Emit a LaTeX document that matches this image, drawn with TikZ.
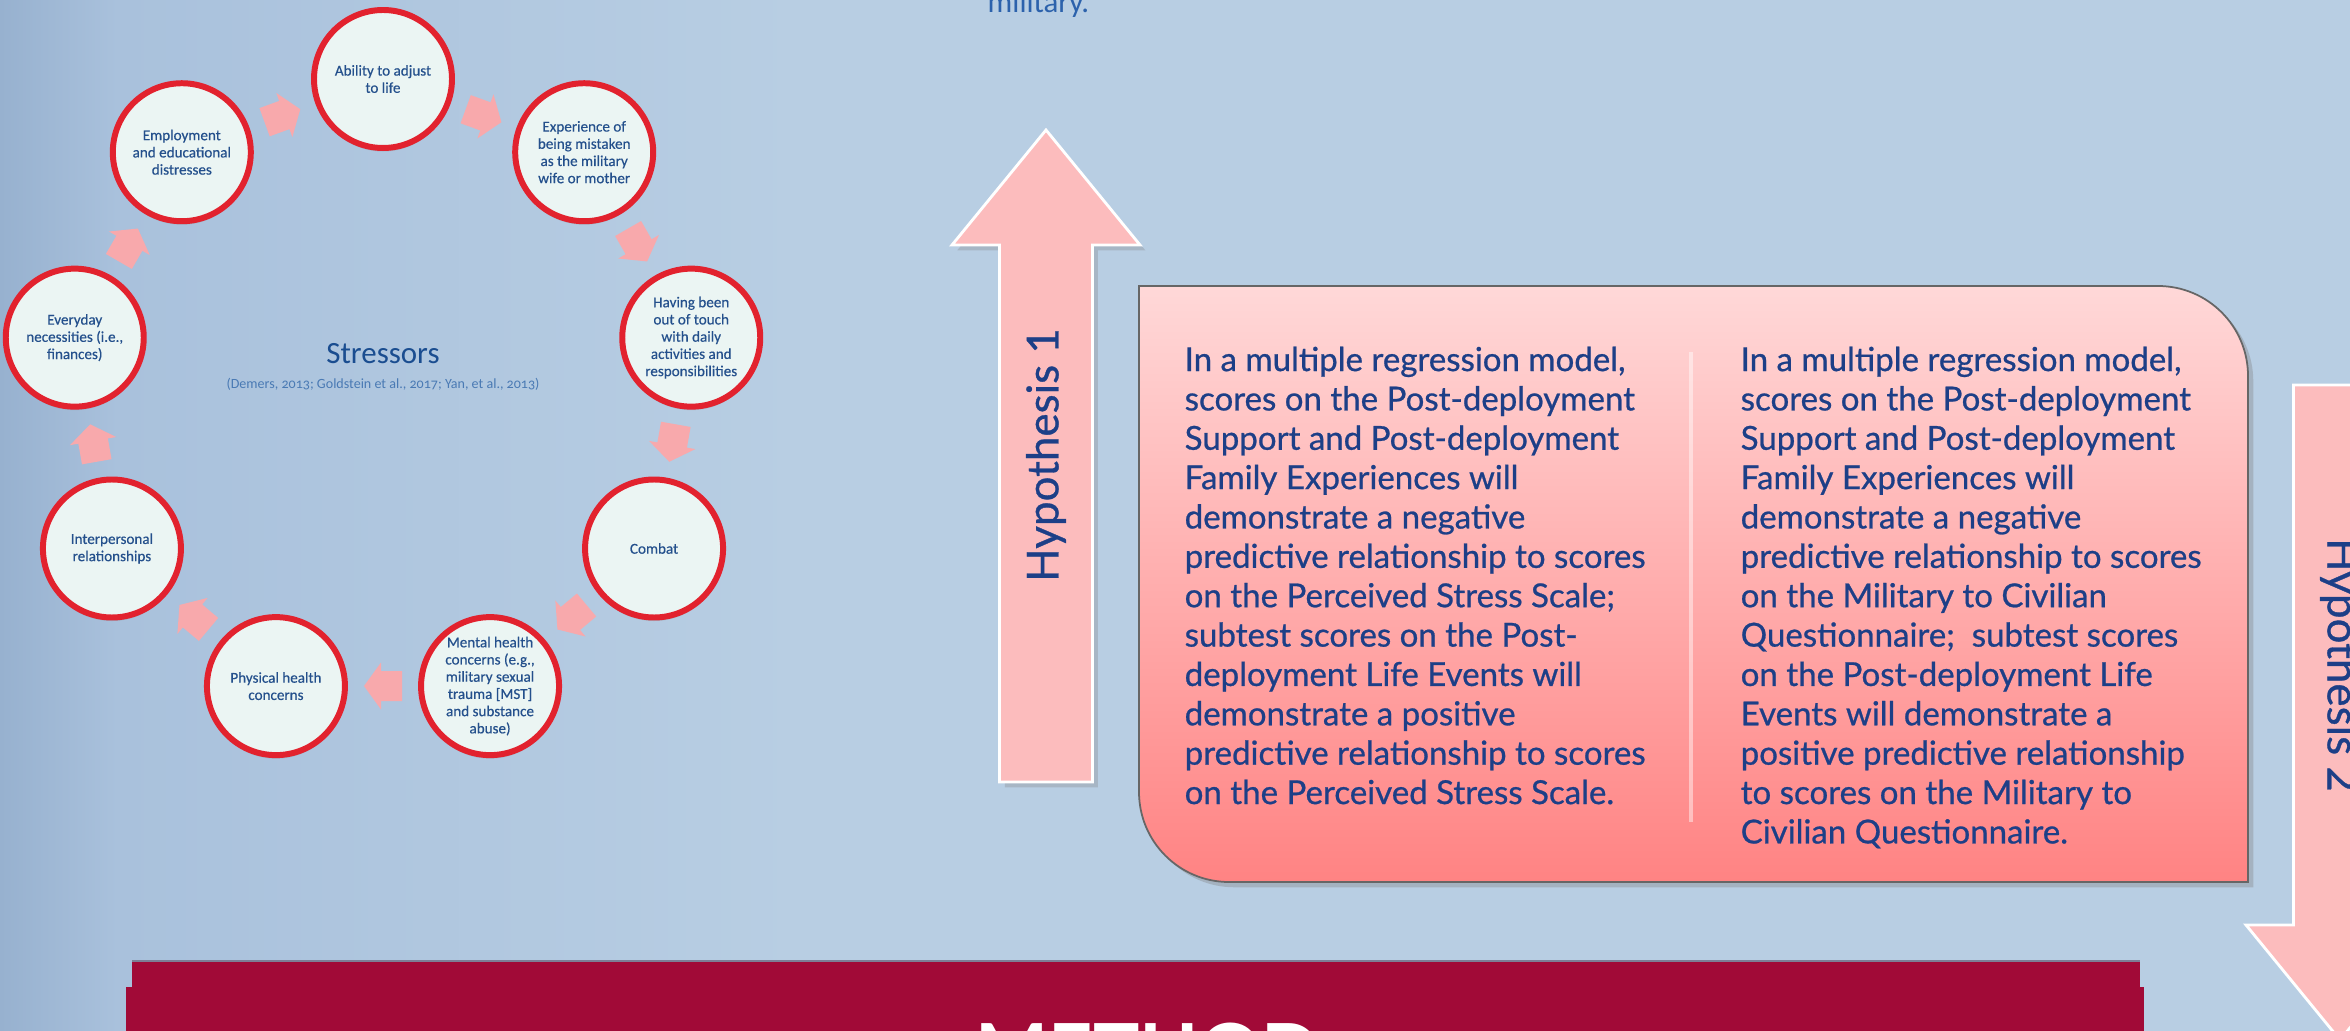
\documentclass[tikz,border=0pt]{standalone}
\usepackage{fontspec}
\setmainfont{Lato}
\newfontfamily\statementfont[FakeBold=0.7]{Lato}
\newfontfamily\cardfont[FakeBold=0.4]{Carlito}
\newfontfamily\titlefont{Carlito}
\newfontfamily\citefont[Numbers=OldStyle]{Carlito}
\usetikzlibrary{shadows}

\definecolor{bgleft}{HTML}{97B1CF}
\definecolor{bgmid}{HTML}{A9C1DC}
\definecolor{bgright}{HTML}{B8CEE3}
\definecolor{ringred}{HTML}{E2222E}
\definecolor{cardfill}{HTML}{EBF5F3}
\definecolor{cardtext}{HTML}{24508C}
\definecolor{cyclepink}{HTML}{F8A9AC}
\definecolor{hyppink}{HTML}{FCBCBD}
\definecolor{boxtop}{HTML}{FFD8D8}
\definecolor{boxbottom}{HTML}{FF8383}
\definecolor{hyptext}{HTML}{1D3F87}
\definecolor{titleblue}{HTML}{1A4D90}
\definecolor{citeblue}{HTML}{4A7AB4}
\definecolor{topblue}{HTML}{2C62AC}
\definecolor{methodred}{HTML}{A10A37}
\definecolor{methodedge}{HTML}{7D7F96}
\pgfdeclarehorizontalshading{backdrop}{100bp}{color(0bp)=(bgleft); color(25bp)=(bgleft); color(27.5bp)=(bgmid); color(42bp)=(bgright); color(100bp)=(bgright)}

\begin{document}
\begin{tikzpicture}[
  stressor/.style={circle, draw=ringred, line width=1.7pt, fill=cardfill,
    minimum size=1.38cm, inner sep=0pt, align=center, text=cardtext,
    font=\cardfont\fontsize{4.3}{4.9}\selectfont,
    drop shadow={opacity=.25, shadow xshift=0pt, shadow yshift=-1pt}},
  hyparrow/.style={fill=hyppink, draw=white, line width=.8pt,
    drop shadow={opacity=.3, shadow xshift=1.5pt, shadow yshift=-1.5pt}},
  hyplabel/.style={text=hyptext, font=\statementfont\fontsize{12.5}{15}\selectfont},
  column/.style={anchor=north west, inner sep=0pt, align=left, text=hyptext,
    font=\statementfont\fontsize{9.4}{11.2}\selectfont},
  cyclearrow/.pic={\fill[cyclepink] (-0.19,-0.15) -- (0.02,-0.15) -- (0.02,-0.235)
    -- (0.19,0) -- (0.02,0.235) -- (0.02,0.15) -- (-0.19,0.15) -- cycle;}
]
  \useasboundingbox (0,0) rectangle (23.5,10.3);
  \shade[shading=backdrop] (0,0) rectangle (23.5,10.3);

  \node[anchor=base west, inner sep=0pt, text=topblue,
    font=\titlefont\fontsize{8.8}{10}\selectfont] (topline) at (9.87,10.17) {military.};

  % method banner
  \fill[methodred] (1.32,0.42) rectangle (21.40,0.69);
  \fill[methodred] (1.26,-0.20) rectangle (21.44,0.43);
  \draw[methodedge, line width=.8pt] (1.32,0.69) -- (21.40,0.69);
  \node[anchor=base, text=white, font=\bfseries\fontsize{22}{24}\selectfont] (method) at (11.48,-0.49) {METHOD};

  % stressor ring
  \begin{scope}[shift={(3.83,6.38)}]
    \node[stressor] (adjust) at (90:3.13) {Ability to adjust\\to life};
    \node[stressor] (mistaken) at (50:3.13) {Experience of\\being mistaken\\as the military\\wife or mother};
    \node[stressor] (touch) at (10:3.13) {Having been\\out of touch\\with daily\\activities and\\responsibilities};
    \node[stressor] (combat) at (-30:3.13) {Combat};
    \node[stressor] (mental) at (-70:3.13) {Mental health\\concerns (e.g.,\\military sexual\\trauma [MST]\\and substance\\abuse)};
    \node[stressor] (physical) at (-110:3.13) {Physical health\\concerns};
    \node[stressor] (interpersonal) at (-150:3.13) {Interpersonal\\relationships};
    \node[stressor] (everyday) at (170:3.13) {Everyday\\necessities (i.e.,\\finances)};
    \node[stressor] (employment) at (130:3.13) {Employment\\and educational\\distresses};

    \pic[rotate=-20] at (70:2.94) {cyclearrow};
    \pic[rotate=-60] at (30:2.94) {cyclearrow};
    \pic[rotate=-100] at (-10:2.94) {cyclearrow};
    \pic[rotate=-140] at (-50:2.94) {cyclearrow};
    \pic[rotate=180] at (-90:2.94) {cyclearrow};
    \pic[rotate=140] at (-130:2.94) {cyclearrow};
    \pic[rotate=100] at (-170:2.94) {cyclearrow};
    \pic[rotate=60] at (150:2.94) {cyclearrow};
    \pic[rotate=20] at (110:2.94) {cyclearrow};

    \node[anchor=base, inner sep=0pt, text=titleblue,
      font=\titlefont\fontsize{8.8}{10}\selectfont] (title) at (0,0.28) {Stressors};
    \node[anchor=base, inner sep=0pt, text=citeblue,
      font=\citefont\fontsize{4}{5}\selectfont] (cite) at (0,0.04)
      {(Demers, 2013; Goldstein et al., 2017; Yan, et al., 2013)};
  \end{scope}

  % hypothesis arrows
  \path[hyparrow] (9.995,2.48) -- (9.995,7.85) -- (9.52,7.85) -- (10.46,9.00)
    -- (11.40,7.85) -- (10.925,7.85) -- (10.925,2.48) -- cycle;
  \node[hyplabel, rotate=90] (hypone) at (10.46,5.75) {Hypothesis 1};

  \path[hyparrow] (22.935,6.45) -- (22.935,1.05) -- (22.46,1.05) -- (23.40,-0.10)
    -- (24.34,1.05) -- (23.865,1.05) -- (23.865,6.45) -- cycle;
  \node[hyplabel, rotate=-90] (hyptwo) at (23.40,3.65) {Hypothesis 2};

  % hypothesis statements
  \path[top color=boxtop, bottom color=boxbottom, draw=gray!80!black, line width=.5pt,
    drop shadow={opacity=.35, shadow xshift=1.5pt, shadow yshift=-1.5pt}]
    (11.39,7.44) -- (21.58,7.44) arc[start angle=90, end angle=0, radius=0.9]
    -- (22.48,1.48) -- (12.29,1.48) arc[start angle=270, end angle=180, radius=0.9] -- cycle;
  \draw[white, opacity=.45, line width=1.4pt] (16.91,6.78) -- (16.91,2.08);

  \node[column] (hyponetext) at (11.84,6.84) {In a multiple regression model,\\
    scores on the Post-deployment\\Support and Post-deployment\\Family Experiences will\\
    demonstrate a negative\\predictive relationship to scores\\on the Perceived Stress Scale;\\
    subtest scores on the Post-\\deployment Life Events will\\demonstrate a positive\\
    predictive relationship to scores\\on the Perceived Stress Scale.};
  \node[column] (hyptwotext) at (17.40,6.84) {In a multiple regression model,\\
    scores on the Post-deployment\\Support and Post-deployment\\Family Experiences will\\
    demonstrate a negative\\predictive relationship to scores\\on the Military to Civilian\\
    Questionnaire; \ subtest scores\\on the Post-deployment Life\\Events will demonstrate a\\
    positive predictive relationship\\to scores on the Military to\\Civilian Questionnaire.};
\end{tikzpicture}
\end{document}
